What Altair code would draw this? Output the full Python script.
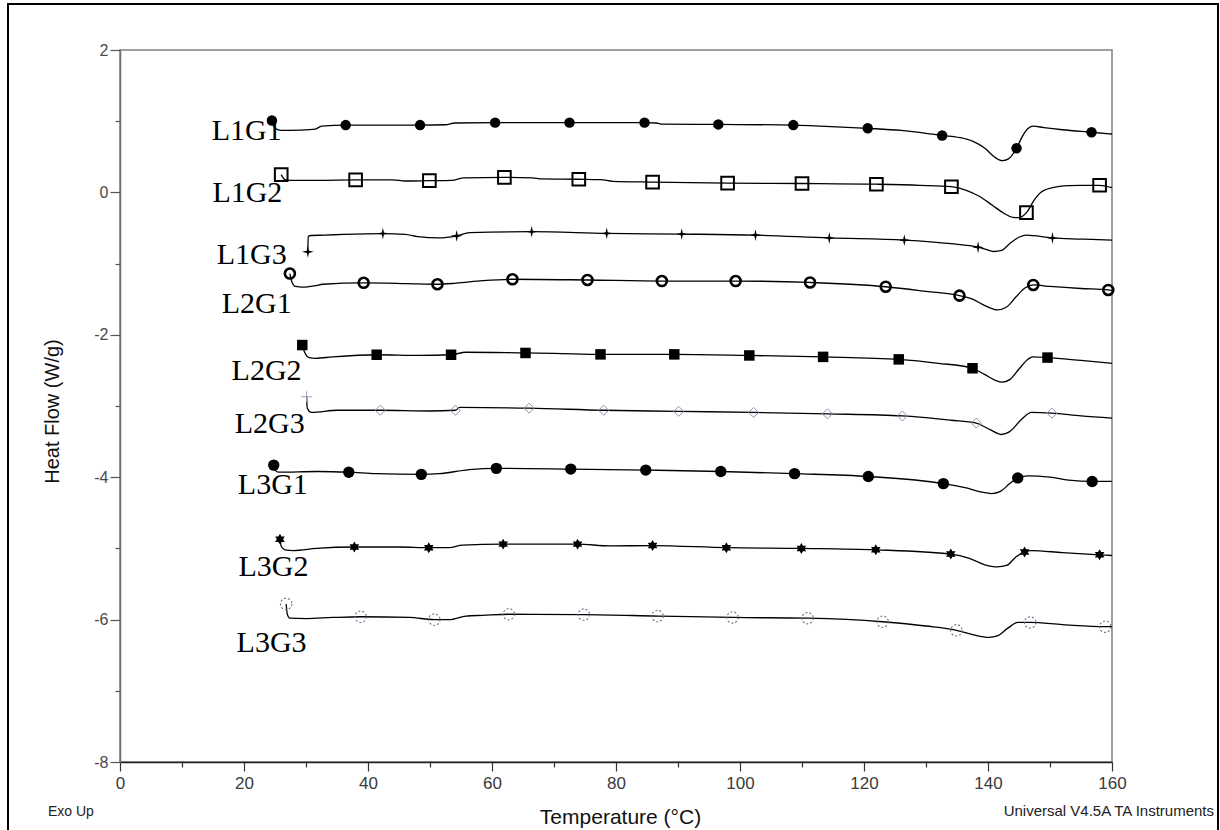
import altair as alt
import pandas as pd

# ---- DSC traces: temperature (°C) and heat flow (W/g) ----
L1G1_T = [24.5, 25.0, 26.0, 29.0, 31.5, 32.5, 36.4, 44.0, 48.4, 52.5, 54.0, 60.5, 72.5, 84.6, 86.5, 87.5,
          96.5, 108.6, 112.0, 120.6, 126.0, 132.6, 135.5, 137.5, 139.5, 141.0, 142.3, 143.3, 144.6, 145.5,
          146.5, 147.3, 149.0, 152.0, 156.7, 160.0]
L1G1_HF = [1.01, 0.90, 0.87, 0.875, 0.89, 0.93, 0.945, 0.945, 0.945, 0.95, 0.975, 0.98, 0.98, 0.98, 0.975, 0.96,
           0.955, 0.945, 0.935, 0.90, 0.87, 0.80, 0.77, 0.72, 0.62, 0.50, 0.445, 0.47, 0.62, 0.78,
           0.90, 0.93, 0.91, 0.88, 0.845, 0.82]
L1G1_MARKS = [24.5, 36.4, 48.4, 60.5, 72.5, 84.6, 96.5, 108.6, 120.6, 132.6, 144.6, 156.7]

L1G2_T = [26.0, 26.6, 27.5, 32.0, 38.0, 44.0, 46.0, 49.9, 53.5, 55.5, 62.0, 66.5, 68.0, 74.0, 77.5, 79.5,
          85.9, 98.0, 110.0, 122.0, 129.0, 134.1, 136.5, 138.5, 140.7, 142.5, 144.0, 145.0, 146.2, 147.5,
          148.5, 150.4, 153.0, 155.0, 158.0, 160.0]
L1G2_HF = [0.25, 0.18, 0.17, 0.17, 0.175, 0.175, 0.16, 0.165, 0.17, 0.205, 0.21, 0.205, 0.19, 0.185, 0.18, 0.155,
           0.145, 0.13, 0.125, 0.115, 0.10, 0.08, 0.03, -0.05, -0.18, -0.29, -0.35, -0.355, -0.285, -0.10,
           0.0, 0.066, 0.095, 0.10, 0.10, 0.066]
L1G2_MARKS = [26.0, 38.0, 49.9, 62.0, 74.0, 85.9, 98.0, 110.0, 122.0, 134.1, 146.2, 158.0]

L1G3_T = [30.3, 30.35, 30.8, 33.0, 36.0, 42.4, 46.0, 48.0, 51.5, 54.3, 56.4, 66.4, 78.5, 90.6, 102.5, 114.4,
          126.5, 134.0, 138.4, 140.0, 141.0, 142.2, 143.5, 145.0, 146.2, 150.4, 155.0, 160.0]
L1G3_HF = [-0.835, -0.62, -0.605, -0.60, -0.59, -0.578, -0.59, -0.62, -0.64, -0.61, -0.566, -0.552, -0.576,
           -0.585, -0.60, -0.64, -0.67, -0.72, -0.77, -0.81, -0.83, -0.815, -0.72, -0.63, -0.60, -0.64, -0.655,
           -0.67]
L1G3_MARKS = [30.3, 42.4, 54.3, 66.4, 78.5, 90.6, 102.5, 114.4, 126.5, 138.4, 150.4]

L2G1_T = [27.4, 27.7, 28.3, 29.5, 31.5, 32.7, 39.3, 46.2, 51.2, 54.2, 58.5, 63.3, 75.4, 87.4, 99.3, 111.3,
          123.5, 130.0, 135.4, 137.5, 139.5, 141.5, 143.0, 144.5, 146.0, 147.3, 150.0, 155.0, 159.4, 160.0]
L2G1_HF = [-1.14, -1.25, -1.32, -1.33, -1.31, -1.29, -1.27, -1.28, -1.29, -1.275, -1.24, -1.22, -1.23, -1.245,
           -1.245, -1.265, -1.325, -1.39, -1.45, -1.50, -1.59, -1.65, -1.61, -1.47, -1.34, -1.30, -1.32, -1.35,
           -1.37, -1.38]
L2G1_MARKS = [27.4, 39.3, 51.2, 63.3, 75.4, 87.4, 99.3, 111.3, 123.5, 135.4, 147.3, 159.4]

L2G2_T = [29.4, 29.8, 30.5, 31.5, 34.3, 41.4, 48.3, 53.4, 55.8, 65.4, 70.0, 77.5, 89.4, 101.5, 113.4, 125.6,
          132.0, 137.5, 139.5, 141.2, 142.3, 143.5, 145.0, 146.5, 147.2, 149.6, 155.0, 160.0]
L2G2_HF = [-2.144, -2.25, -2.32, -2.33, -2.31, -2.28, -2.29, -2.28, -2.245, -2.255, -2.26, -2.275, -2.275, -2.29,
           -2.31, -2.345, -2.40, -2.47, -2.56, -2.64, -2.665, -2.63, -2.48, -2.34, -2.31, -2.32, -2.36, -2.40]
L2G2_MARKS = [29.4, 41.4, 53.4, 65.4, 77.5, 89.4, 101.5, 113.4, 125.6, 137.5, 149.6]

L2G3_T = [30.1, 30.2, 30.9, 35.1, 42.0, 49.9, 54.1, 54.8, 66.0, 78.0, 90.1, 102.2, 114.1, 126.2, 134.0, 138.1,
          140.5, 142.2, 143.5, 145.5, 147.0, 150.3, 155.0, 160.0]
L2G3_HF = [-2.87, -3.03, -3.09, -3.06, -3.06, -3.07, -3.06, -3.02, -3.03, -3.06, -3.075, -3.09, -3.11, -3.14,
           -3.20, -3.24, -3.34, -3.40, -3.36, -3.18, -3.09, -3.10, -3.14, -3.17]
L2G3_MARKS = [42.0, 54.1, 66.0, 78.0, 90.1, 102.2, 114.1, 126.2, 138.1, 150.3]

L3G1_T = [24.8, 25.0, 25.6, 31.9, 36.9, 41.3, 48.6, 51.5, 55.8, 58.5, 60.7, 72.7, 84.8, 96.9, 108.8, 120.7,
          132.8, 136.5, 139.0, 140.6, 142.0, 143.5, 144.8, 146.5, 150.0, 153.0, 156.8, 160.0]
L3G1_HF = [-3.83, -3.90, -3.93, -3.92, -3.93, -3.95, -3.96, -3.95, -3.90, -3.88, -3.876, -3.886, -3.90, -3.92,
           -3.95, -3.99, -4.09, -4.15, -4.21, -4.23, -4.20, -4.09, -4.01, -3.98, -4.00, -4.04, -4.06, -4.06]
L3G1_MARKS = [24.8, 36.9, 48.6, 60.7, 72.7, 84.8, 96.9, 108.8, 120.7, 132.8, 144.8, 156.8]

L3G2_T = [25.8, 26.0, 26.6, 28.0, 31.7, 37.8, 45.0, 49.8, 53.1, 55.2, 61.8, 73.8, 79.0, 85.9, 97.8, 109.9,
          121.9, 134.0, 137.0, 139.5, 141.5, 143.0, 144.5, 145.9, 147.0, 152.0, 158.0, 160.0]
L3G2_HF = [-4.87, -4.97, -5.02, -5.03, -5.00, -4.98, -4.98, -4.99, -4.99, -4.955, -4.94, -4.94, -4.965, -4.96,
           -4.99, -5.00, -5.02, -5.08, -5.14, -5.23, -5.26, -5.24, -5.12, -5.05, -5.03, -5.06, -5.09, -5.10]
L3G2_MARKS = [25.8, 37.8, 49.8, 61.8, 73.8, 85.9, 97.8, 109.9, 121.9, 134.0, 145.9, 158.0]

L3G3_T = [26.8, 27.0, 27.4, 30.0, 34.3, 38.8, 46.7, 50.7, 53.1, 55.8, 58.5, 62.7, 74.8, 86.7, 98.8, 110.9,
          123.0, 130.0, 134.9, 137.5, 140.2, 141.5, 143.2, 144.8, 146.8, 152.0, 158.9, 160.0]
L3G3_HF = [-5.78, -5.93, -5.98, -5.985, -5.97, -5.96, -5.97, -6.00, -6.00, -5.95, -5.94, -5.925, -5.93, -5.95,
           -5.97, -5.98, -6.03, -6.09, -6.15, -6.21, -6.25, -6.23, -6.12, -6.04, -6.04, -6.07, -6.10, -6.10]
L3G3_MARKS = [26.8, 38.8, 50.7, 62.7, 74.8, 86.7, 98.8, 110.9, 123.0, 134.9, 146.8, 158.9]

SERIES = ["L1G1", "L1G2", "L1G3", "L2G1", "L2G2", "L2G3", "L3G1", "L3G2", "L3G3"]
TRACES = {
    "L1G1": (L1G1_T, L1G1_HF, L1G1_MARKS),
    "L1G2": (L1G2_T, L1G2_HF, L1G2_MARKS),
    "L1G3": (L1G3_T, L1G3_HF, L1G3_MARKS),
    "L2G1": (L2G1_T, L2G1_HF, L2G1_MARKS),
    "L2G2": (L2G2_T, L2G2_HF, L2G2_MARKS),
    "L2G3": (L2G3_T, L2G3_HF, L2G3_MARKS),
    "L3G1": (L3G1_T, L3G1_HF, L3G1_MARKS),
    "L3G2": (L3G2_T, L3G2_HF, L3G2_MARKS),
    "L3G3": (L3G3_T, L3G3_HF, L3G3_MARKS),
}

# Trace name labels (left edge, baseline) in data units
LABEL_T = [14.8, 14.9, 15.6, 16.4, 18.0, 18.5, 19.0, 19.1, 18.8]
LABEL_HF = [0.73, -0.13, -1.00, -1.70, -2.64, -3.38, -4.23, -5.39, -6.45]

# ---- symbol shapes ----
STAR4 = "M0,-1L0.18,-0.18L1,0L0.18,0.18L0,1L-0.18,0.18L-1,0L-0.18,-0.18Z"
STAR6 = ("M0,-1L0.29,-0.5L0.87,-0.5L0.58,0L0.87,0.5L0.29,0.5L0,1L-0.29,0.5L-0.87,0.5"
         "L-0.58,0L-0.87,-0.5L-0.29,-0.5Z")
PLUS = "M-1,0L1,0M0,-1L0,1"

SYMBOLS = {
    "L1G1": dict(shape="circle", filled=True, size=110, color="black"),
    "L1G2": dict(shape="square", filled=False, size=160, color="black", strokeWidth=2),
    "L1G3": dict(shape=STAR4, filled=True, size=140, color="black"),
    "L2G1": dict(shape="circle", filled=False, size=100, color="black", strokeWidth=2.6),
    "L2G2": dict(shape="square", filled=True, size=110, color="black"),
    "L2G3": dict(shape="diamond", filled=False, size=100, color="#8d90b4", strokeWidth=1),
    "L3G1": dict(shape="circle", filled=True, size=130, color="black"),
    "L3G2": dict(shape=STAR6, filled=True, size=120, color="black"),
    "L3G3": dict(shape="circle", filled=False, size=130, color="#6c6c88", strokeWidth=1.1, strokeDash=[2, 2]),
}

rows, mark_rows = [], []
for s in SERIES:
    ts, hfs, marks = TRACES[s]
    for i, (t, hf) in enumerate(zip(ts, hfs)):
        rows.append({"series": s, "idx": i, "T": t, "HF": hf})
        if t in marks:
            mark_rows.append({"series": s, "T": t, "HF": hf})
curves = pd.DataFrame(rows)
markers = pd.DataFrame(mark_rows)
labels = pd.DataFrame({"name": SERIES, "T": LABEL_T, "HF": LABEL_HF})
l2g3_start = pd.DataFrame({"T": [L2G3_T[0]], "HF": [L2G3_HF[0]]})

AXIS_FONT = "Liberation Sans"

x_scale = alt.Scale(domain=[0, 160], nice=False, zero=False)
y_scale = alt.Scale(domain=[-8, 2], nice=False, zero=False)

x_axis = alt.Axis(
    values=list(range(0, 161, 5)),
    labelExpr="datum.value % 20 === 0 ? toString(datum.value) : ''",
    tickSize={"condition": {"test": "datum.value % 20 === 0", "value": 9}, "value": 5},
    tickColor="#333333", tickWidth=1.2,
    domainColor="#222222", domainWidth=1.5,
    labelFont=AXIS_FONT, labelFontSize=17, labelColor="#3a3a3a", labelPadding=4,
    labelFlush=False, labelOverlap=False,
    grid=False,
    title="Temperature (°C)", titleFont=AXIS_FONT, titleFontSize=21, titleFontWeight="normal",
    titleColor="#111111", titleX=500, titleY=55, titleBaseline="middle",
)
y_axis = alt.Axis(
    values=[v / 2 for v in range(-16, 5)],
    labelExpr="datum.value % 2 === 0 ? toString(datum.value) : ''",
    tickSize={"condition": {"test": "datum.value % 2 === 0", "value": 10}, "value": 5},
    tickColor="#555555", tickWidth=1.2,
    domainColor="#707070", domainWidth=1.5,
    labelFont=AXIS_FONT, labelFontSize=16, labelColor="#4a4a4a", labelPadding=2,
    labelFlush=False, labelOverlap=False,
    grid=False,
    title="Heat Flow (W/g)", titleFont=AXIS_FONT, titleFontSize=20, titleFontWeight="normal",
    titleColor="#111111", titleX=-68, titleY=361, titleBaseline="middle", titleAngle=-90,
)

X = alt.X("T:Q", scale=x_scale, axis=x_axis)
Y = alt.Y("HF:Q", scale=y_scale, axis=y_axis)

lines = alt.Chart(curves).mark_line(color="black", strokeWidth=1.3, interpolate="monotone").encode(
    x=X, y=Y, detail="series:N", order="idx:Q"
)

symbol_layers = []
for s in SERIES:
    symbol_layers.append(
        alt.Chart(markers).transform_filter(alt.datum.series == s)
        .mark_point(opacity=1, **SYMBOLS[s])
        .encode(x="T:Q", y="HF:Q")
    )

start_plus = alt.Chart(l2g3_start).mark_point(
    shape=PLUS, filled=False, size=120, color="#9a9db8", strokeWidth=1, opacity=1
).encode(x="T:Q", y="HF:Q")

names = alt.Chart(labels).mark_text(
    font="Liberation Serif", fontSize=30, align="left", baseline="alphabetic", color="black"
).encode(x="T:Q", y="HF:Q", text="name:N")

footer = pd.DataFrame({"txt": ["Exo Up"]})
exo = alt.Chart(footer).mark_text(
    font=AXIS_FONT, fontSize=14, align="left", baseline="middle", color="#222222"
).encode(text="txt:N", x=alt.value(-72), y=alt.value(762))

credit = pd.DataFrame({"txt": ["Universal V4.5A TA Instruments"]})
inst = alt.Chart(credit).mark_text(
    font=AXIS_FONT, fontSize=15, align="right", baseline="middle", color="#222222"
).encode(text="txt:N", x=alt.value(1094), y=alt.value(761))

border = alt.Chart(footer).mark_rect(
    fillOpacity=0, stroke="black", strokeWidth=2
).encode(x=alt.value(-112), x2=alt.value(1098), y=alt.value(-46), y2=alt.value(800))

chart = alt.layer(
    border, lines, *symbol_layers, start_plus, names, exo, inst
).properties(
    width=992, height=712,
    autosize=alt.AutoSizeParams(type="none"),
    padding={"left": 120, "top": 50, "right": 108, "bottom": 68},
    background="white",
).configure_view(
    stroke="#808080", strokeWidth=1.5
)

chart.save("out.html", embed_options={"renderer": "svg", "actions": False})
